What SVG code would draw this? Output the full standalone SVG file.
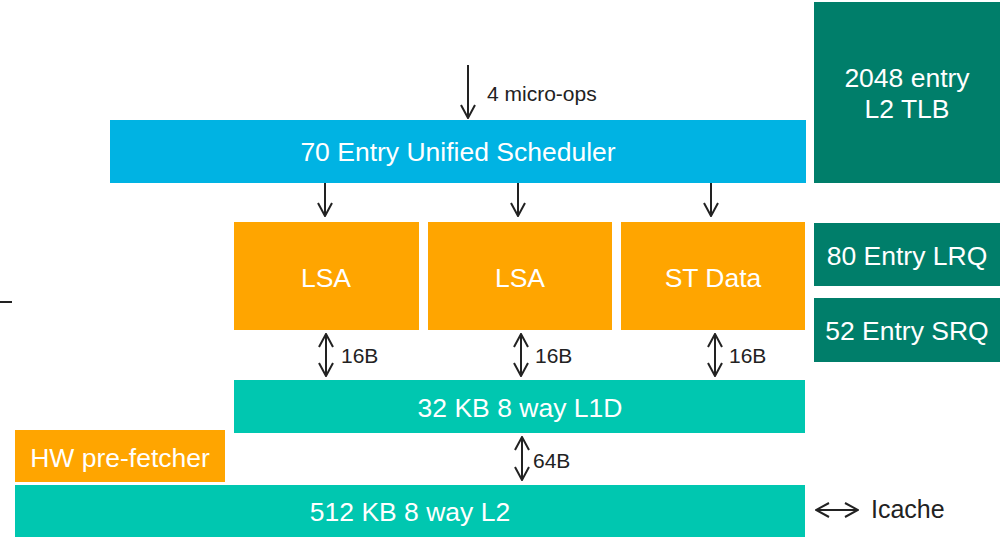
<svg xmlns="http://www.w3.org/2000/svg" width="1002" height="537" viewBox="0 0 1002 537">
  <defs>
    <style>
      .box-text { font-family: "Liberation Sans", Arial, sans-serif; font-size: 26.5px; fill: #ffffff; text-anchor: middle; dominant-baseline: central; }
      .lbl { font-family: "Liberation Sans", Arial, sans-serif; font-size: 21px; fill: #222222; dominant-baseline: central; }
      .conn { stroke: #222222; stroke-width: 2; fill: none; }
      .blue { fill: #00B3E3; }
      .orange { fill: #FFA500; }
      .teal { fill: #00C7B0; }
      .dark { fill: #007E6A; }
    </style>
    <marker id="head" viewBox="0 0 16 16" refX="15" refY="8" markerWidth="16" markerHeight="16" markerUnits="userSpaceOnUse" orient="auto-start-reverse">
      <path d="M2,1 L15,8 L2,15" fill="none" stroke="#222222" stroke-width="2"/>
    </marker>
  </defs>
  <rect width="1002" height="537" fill="#ffffff"/>

  <g id="scheduler">
    <rect class="blue" x="110" y="120" width="696" height="63"/>
    <text class="box-text" x="458" y="152">70 Entry Unified Scheduler</text>
  </g>
  <g id="l2-tlb">
    <rect class="dark" x="814" y="2" width="186" height="181"/>
    <text class="box-text" x="907" y="78">2048 entry</text>
    <text class="box-text" x="907" y="109">L2 TLB</text>
  </g>
  <g id="lsa-1">
    <rect class="orange" x="234" y="222" width="185" height="108"/>
    <text class="box-text" x="326" y="278">LSA</text>
  </g>
  <g id="lsa-2">
    <rect class="orange" x="428" y="222" width="184" height="108"/>
    <text class="box-text" x="520" y="278">LSA</text>
  </g>
  <g id="st-data">
    <rect class="orange" x="621" y="222" width="184" height="108"/>
    <text class="box-text" x="713" y="278">ST Data</text>
  </g>
  <g id="lrq">
    <rect class="dark" x="814" y="223" width="186" height="63"/>
    <text class="box-text" x="907" y="256">80 Entry LRQ</text>
  </g>
  <g id="srq">
    <rect class="dark" x="814" y="298" width="186" height="64"/>
    <text class="box-text" x="907" y="331">52 Entry SRQ</text>
  </g>
  <g id="l1d">
    <rect class="teal" x="234" y="380" width="571" height="53"/>
    <text class="box-text" x="520" y="408">32 KB 8 way L1D</text>
  </g>
  <g id="hw-prefetcher">
    <rect class="orange" x="15" y="430" width="210" height="52"/>
    <text class="box-text" x="120" y="458">HW pre-fetcher</text>
  </g>
  <g id="l2">
    <rect class="teal" x="15" y="485" width="790" height="52"/>
    <text class="box-text" x="410" y="512">512 KB 8 way L2</text>
  </g>

  <g id="connectors">
    <line class="conn" x1="468" y1="65" x2="468" y2="118" marker-end="url(#head)"/>
    <text class="lbl" x="487" y="93">4 micro-ops</text>

    <line class="conn" x1="325" y1="183" x2="325" y2="216" marker-end="url(#head)"/>
    <line class="conn" x1="518" y1="183" x2="518" y2="216" marker-end="url(#head)"/>
    <line class="conn" x1="711" y1="183" x2="711" y2="216" marker-end="url(#head)"/>

    <line class="conn" x1="326" y1="334" x2="326" y2="376" marker-start="url(#head)" marker-end="url(#head)"/>
    <text class="lbl" x="341" y="355">16B</text>
    <line class="conn" x1="521" y1="334" x2="521" y2="376" marker-start="url(#head)" marker-end="url(#head)"/>
    <text class="lbl" x="535" y="355">16B</text>
    <line class="conn" x1="715" y1="334" x2="715" y2="376" marker-start="url(#head)" marker-end="url(#head)"/>
    <text class="lbl" x="729" y="355">16B</text>

    <line class="conn" x1="522" y1="437" x2="522" y2="480" marker-start="url(#head)" marker-end="url(#head)"/>
    <text class="lbl" x="533" y="460">64B</text>

    <line class="conn" x1="816" y1="510" x2="858" y2="510" marker-start="url(#head)" marker-end="url(#head)"/>
    <text class="lbl" x="871" y="509" style="font-size:25px">Icache</text>

    <line class="conn" x1="0" y1="302" x2="12" y2="302"/>
  </g>
</svg>
